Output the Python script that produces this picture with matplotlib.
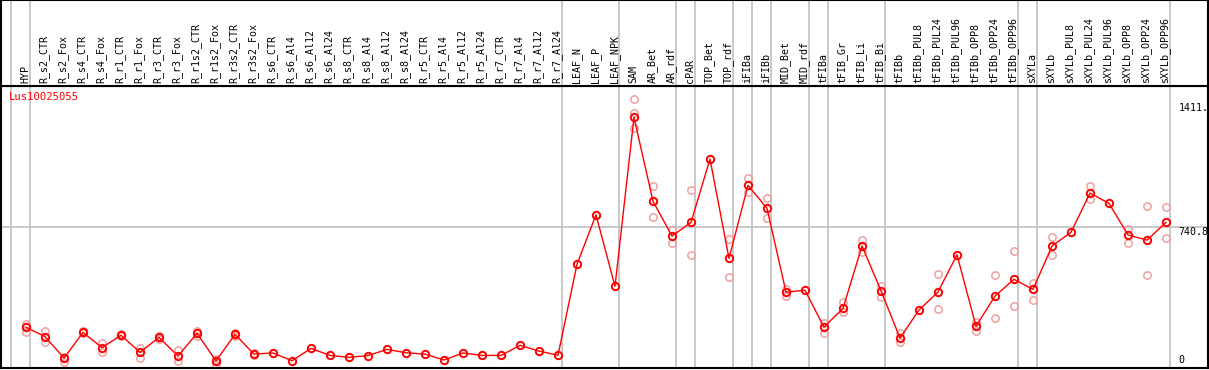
import numpy as np
import matplotlib
matplotlib.use("Agg")
import matplotlib.pyplot as plt

nan = np.nan

gene_id = "Lus10025055"

samples = [
    "HYP", "R_s2_CTR", "R_s2_Fox", "R_s4_CTR", "R_s4_Fox", "R_r1_CTR", "R_r1_Fox",
    "R_r3_CTR", "R_r3_Fox", "R_r1s2_CTR", "R_r1s2_Fox", "R_r3s2_CTR", "R_r3s2_Fox",
    "R_s6_CTR", "R_s6_Al4", "R_s6_Al12", "R_s6_Al24", "R_s8_CTR", "R_s8_Al4",
    "R_s8_Al12", "R_s8_Al24", "R_r5_CTR", "R_r5_Al4", "R_r5_Al12", "R_r5_Al24",
    "R_r7_CTR", "R_r7_Al4", "R_r7_Al12", "R_r7_Al24", "LEAF_N", "LEAF_P", "LEAF_NPK",
    "SAM", "AR_Bet", "AR_rdf", "cPAR", "TOP_Bet", "TOP_rdf", "iFIBa", "iFIBb",
    "MID_Bet", "MID_rdf", "tFIBa", "tFIB_Gr", "tFIB_Li", "tFIB_Bi", "tFIBb",
    "tFIBb_PUL8", "tFIBb_PUL24", "tFIBb_PUL96", "tFIBb_OPP8", "tFIBb_OPP24",
    "tFIBb_OPP96", "sXYLa", "sXYLb", "sXYLb_PUL8", "sXYLb_PUL24", "sXYLb_PUL96",
    "sXYLb_OPP8", "sXYLb_OPP24", "sXYLb_OPP96",
]

# number of samples in each group (separated by vertical grey lines)
group_sizes = [1, 28, 3, 3, 1, 2, 1, 1, 2, 1, 3, 7, 1, 7]

mean_expr = [
    214, 165, 52, 187, 107, 172, 82, 161, 63, 182, 37, 177, 73,
    79, 38, 103, 66, 56, 65, 98, 80, 73, 42, 79, 66, 66, 119, 89, 67,
    545, 805, 429,
    1317, 876, 693, 765, 1098, 576, 960, 839, 399, 408, 215, 313, 641, 406,
    157, 305, 399, 595, 219, 378, 466, 413, 641, 713, 919, 865, 699, 672, 765,
]

rep_a = [
    231, 196, 56, 192, 133, 178, 107, 168, 96, 196, 47, 182, 80,
    nan, nan, nan, nan, nan, nan, nan, nan, nan, nan, nan, nan, nan, nan, nan, nan,
    nan, nan, nan,
    1411, 958, 727, 934, nan, 676, 997, 892, 415, nan, 236, 347, 672, 432,
    182, nan, 492, nan, 242, 489, 613, 448, 688, nan, 956, nan, 730, 851, 846,
]

rep_b = [
    189, 138, 33, 183, 86, 166, 54, 154, 37, 168, 19, 170, 66,
    nan, nan, nan, nan, nan, nan, nan, nan, nan, nan, nan, nan, nan, nan, nan, nan,
    nan, nan, nan,
    1263, 792, 658, 592, nan, 476, 923, 786, 378, nan, 185, 292, 610, 371,
    138, nan, 308, nan, 196, 263, 324, 357, 592, nan, 886, nan, 658, 487, 681,
]

rep_c = [nan] * 32 + [1341] + [nan] * 28

W, H = 1209, 370
DPI = 100
RED = "#ff0000"
PALE = "#f0a0a0"
GRID = "#c0c0c0"
FONT = "DejaVu Sans Mono"

# pixel layout of the reference
px_left, px_right = 1, 1208
px_header, px_bottom = 86, 368
col_w = 19.0
first_x = 26.0

fig = plt.figure(figsize=(W / DPI, H / DPI), dpi=DPI)
ax = fig.add_axes([px_left / W, (H - px_bottom) / H,
                   (px_right - px_left) / W, (px_bottom - px_header) / H])
axh = fig.add_axes([px_left / W, (H - px_header) / H,
                    (px_right - px_left) / W, px_header / H])

x = np.arange(len(samples))
xlim = ((px_left - first_x) / col_w, (px_right - first_x) / col_w)
ymax = max(np.nanmax(rep_a), max(mean_expr)) * 1.05

for a in (ax, axh):
    a.set_xlim(*xlim)
    a.set_xticks([])
    a.set_yticks([])
    for s in a.spines.values():
        s.set_color("black")
        s.set_linewidth(1.5)
ax.set_ylim(0, ymax)
axh.set_ylim(0, px_header)

# group separators
bounds = np.cumsum([0] + group_sizes) - 1 + 0.22
for b in bounds:
    ax.axvline(b, color=GRID, lw=1.2, zorder=0)
    axh.axvline(b, color=GRID, lw=1.2, zorder=0)
ax.axhline(ymax / 2, color=GRID, lw=1.2, zorder=0)

# replicates
for reps in (rep_a, rep_b, rep_c):
    ax.plot(x, reps, ls="none", marker="o", ms=5.3, mfc="none", mec=PALE,
            mew=1.1, zorder=2, clip_on=False)

ax.plot(x, mean_expr, color=RED, lw=1, marker="o", ms=5.3, mfc="none",
        mec=RED, mew=1.4, zorder=3)

# column labels in the header
for i, name in enumerate(samples):
    axh.text(i - 0.05, 3, name, rotation=90, ha="center", va="bottom",
             fontsize=7.2, family=FONT, color="black")

# gene id
ax.text(8 / W, (px_bottom - 92) / (px_bottom - px_header), gene_id,
        transform=ax.transAxes, ha="left", va="top", fontsize=7.6,
        family=FONT, color=RED)

# value labels on the right
lab_x = (1178.5 - first_x) / col_w
ax.text(lab_x, ymax * 0.94, "1411.", ha="left", va="top", fontsize=7.2,
        family=FONT, clip_on=False)
ax.text(lab_x, ymax / 2, "740.8", ha="left", va="top", fontsize=7.2,
        family=FONT, clip_on=False)
ax.text(lab_x, ymax * 0.01, "0", ha="left", va="bottom", fontsize=7.2,
        family=FONT, clip_on=False)

fig.savefig("out.png", dpi=DPI)
